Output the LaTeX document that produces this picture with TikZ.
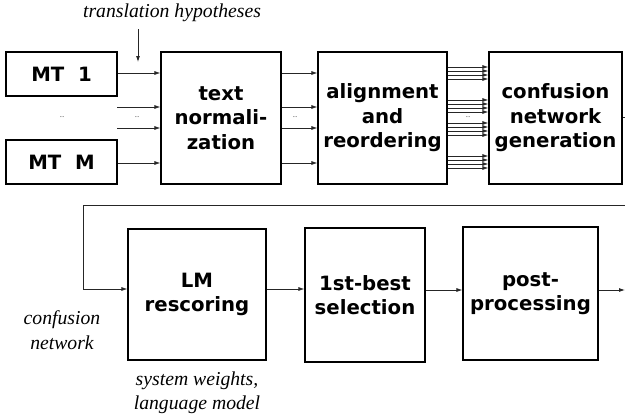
\documentclass[tikz,border=0pt]{standalone}
\usepackage{fontspec}
\setmainfont{Liberation Serif}
\newfontfamily\bxfont{DejaVu Sans}
\usetikzlibrary{arrows.meta}
\tikzset{
  blk/.style={draw=black, line width=1.1pt, fill=white, rectangle, inner sep=0pt,
    align=center, font=\bxfont\bfseries\fontsize{19.7}{24.5}\selectfont},
  conn/.style={draw=black!85, line width=0.8pt, -{Latex[length=6pt,width=4pt]}},
  plain/.style={draw=black!85, line width=0.8pt},
  lbl/.style={align=center, inner sep=0pt, font=\itshape\fontsize{19.7}{24.5}\selectfont},
  dots/.style={inner sep=0pt, font=\fontsize{6}{6}\selectfont}
}
\begin{document}
\begin{tikzpicture}[x=1pt,y=-1pt]
\useasboundingbox (0,0) rectangle (625,418);
% top row
\node[blk, minimum width=111pt, minimum height=44pt] (mt1) at (61.5,74) {MT\ \ 1};
\node[blk, minimum width=111pt, minimum height=44pt] (mtm) at (61.5,162) {MT\ \ M};
\node[blk, minimum width=120pt, minimum height=132pt] (tn) at (221,118) {text\\normali-\\zation};
\node[blk, minimum width=129pt, minimum height=132pt] (al) at (382.5,118) {alignment\\and\\reordering};
\node[blk, minimum width=133pt, minimum height=132pt] (cn) at (555.5,118) {confusion\\network\\generation};
% bottom row
\node[blk, minimum width=138pt, minimum height=131pt] (lm) at (197,294.5) {LM\\rescoring};
\node[blk, minimum width=120pt, minimum height=134pt] (fb) at (365,295) {1st-best\\selection};
\node[blk, minimum width=135pt, minimum height=133pt] (pp) at (530.5,293.5) {post-\\processing};
% labels
\node[lbl] (th) at (172,13) {translation hypotheses};
\node[lbl] (cnl) at (62,330) {confusion\\network};
\node[lbl] (swl) at (197,393) {system weights,\\language model};
% dots
\node[dots] (d1) at (62,117) {...};
\node[dots] (d2) at (137,117) {...};
\node[dots] (d3) at (295,117) {...};
\node[dots] (d4) at (468,117) {...};
% helper coordinates
\coordinate (h1) at (138,29);
\coordinate (h2) at (138,62);
\coordinate (s2) at (117,107);
\coordinate (s3) at (117,128);
\coordinate (cnout) at (625,117);
\coordinate (fbstart) at (625,205);
\coordinate (fbcorner) at (83,205);
\coordinate (ppout) at (625,290);
% connectors into text normalization
\draw[conn] (h1) -- (h2);
\draw[conn] (mt1.east |- 0,73) -- (tn.west |- 0,73);
\draw[conn] (s2) -- (tn.west |- s2);
\draw[conn] (s3) -- (tn.west |- s3);
\draw[conn] (mtm.east |- 0,163) -- (tn.west |- 0,163);
% text normalization -> alignment
\foreach \y in {73,107,128,163}{
  \draw[conn] (tn.east |- 0,\y) -- (al.west |- 0,\y);
}
% alignment -> confusion network generation
\foreach \y in {73,106,129,162}{
  \foreach \d in {-6,-2,2,6}{
    \draw[conn] (al.east |- 0,\y+\d) -- (cn.west |- 0,\y+\d);
  }
}
% output and feedback
\draw[plain] (cn.east |- cnout) -- (cnout);
\draw[conn] (fbstart) -- (fbcorner) |- (lm.west |- 0,289);
\draw[conn] (lm.east |- 0,289) -- (fb.west |- 0,289);
\draw[conn] (fb.east |- 0,290) -- (pp.west |- 0,290);
\draw[conn] (pp.east |- ppout) -- (ppout);
\end{tikzpicture}
\end{document}
